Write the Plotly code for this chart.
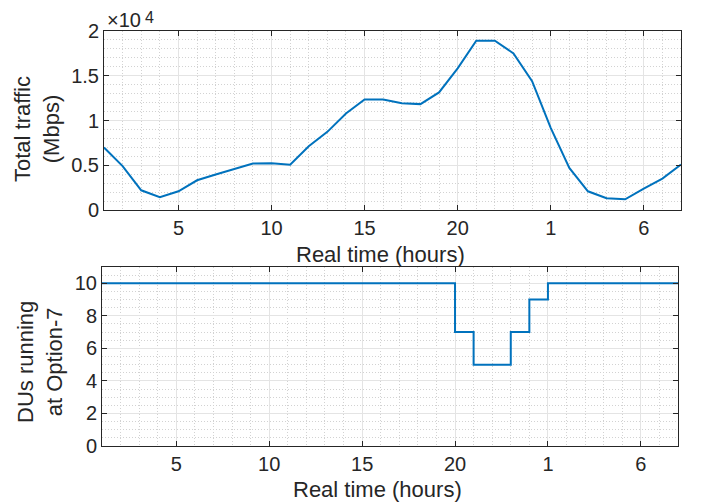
import plotly.graph_objects as go

hours = list(range(1, 33))
traffic = [6980, 4900, 2200, 1420, 2090, 3320, 3960, 4550, 5190, 5220,
           5050, 7130, 8730, 10790, 12350, 12350, 11940, 11830, 13140, 15820,
           18910, 18910, 17500, 14400, 9180, 4700, 2090, 1310, 1200, 2390,
           3510, 5080]
dus = [10] * 19 + [7, 5, 5, 7, 9] + [10] * 8

x_tickvals = [5, 10, 15, 20, 25, 30]
x_ticktext = ["5", "10", "15", "20", "1", "6"]
y1_tickvals = [0, 5000, 10000, 15000, 20000]
y1_ticktext = ["0", "0.5", "1", "1.5", "2"]
y2_tickvals = [0, 2, 4, 6, 8, 10]

# page body has an 8px margin; work in screen pixels and shift
OFF = 8
W, H = 702 - OFF, 504 - OFF
FONT = "Liberation Sans, Arial, sans-serif"
DARK = "#262626"
BLUE = "#0072BD"
TICK = 20
LAB = 22

fig = go.Figure()
fig.add_trace(go.Scatter(x=hours, y=traffic, mode="lines",
                         line=dict(color=BLUE, width=2), xaxis="x", yaxis="y",
                         showlegend=False))
fig.add_trace(go.Scatter(x=hours, y=dus, mode="lines", line_shape="hv",
                         line=dict(color=BLUE, width=2), xaxis="x2", yaxis="y2",
                         showlegend=False))

def px_x(a, b):
    return [(a - OFF) / W, (b - OFF) / W]

def px_y(top, bottom):
    return [(H - (bottom - OFF)) / H, (H - (top - OFF)) / H]

common = dict(showline=True, linecolor=DARK, linewidth=1, mirror="allticks",
              ticks="inside", ticklen=5, tickcolor=DARK, tickwidth=1,
              showgrid=True, gridcolor="#e4e4e4", gridwidth=1, automargin=False,
              zeroline=False, tickfont=dict(family=FONT, size=TICK, color=DARK))

def minor(d):
    return dict(dtick=d, tick0=0, showgrid=True, gridcolor="#d2d2d2",
                griddash="1px,2px", gridwidth=1)

fig.update_layout(
    width=W, height=H,
    margin=dict(l=0, r=0, t=0, b=0),
    paper_bgcolor="white", plot_bgcolor="white",
    xaxis=dict(domain=px_x(104, 681), anchor="y", range=[1, 32],
               tickvals=x_tickvals, ticktext=x_ticktext, minor=minor(1), **common),
    yaxis=dict(domain=px_y(31, 210), anchor="x", range=[0, 20000],
               tickvals=y1_tickvals, ticktext=y1_ticktext, minor=minor(1000), **common),
    xaxis2=dict(domain=px_x(102, 678), anchor="y2", range=[1, 32],
                tickvals=x_tickvals, ticktext=x_ticktext, minor=minor(1), **common),
    yaxis2=dict(domain=px_y(267, 446), anchor="x2", range=[0, 11],
                tickvals=y2_tickvals, minor=minor(0.5), **common),
)

def ann(text, x, y, angle=0, size=LAB, xanchor="center", yanchor="middle"):
    fig.add_annotation(text=text, x=(x - OFF) / W, y=(H - (y - OFF)) / H,
                       xref="paper", yref="paper",
                       showarrow=False, textangle=angle, xanchor=xanchor, yanchor=yanchor,
                       font=dict(family=FONT, size=size, color=DARK))

ann("Real time (hours)", 380, 254)
ann("Real time (hours)", 377, 489)
ann("Total traffic<br>(Mbps)", 37, 129, angle=-90)
ann("DUs running<br>at Option-7", 40, 362, angle=-90)
ann("×10", 105, 20, size=20, xanchor="left")
ann("4", 143, 17, size=16, xanchor="left")

fig.write_html("out.html")
